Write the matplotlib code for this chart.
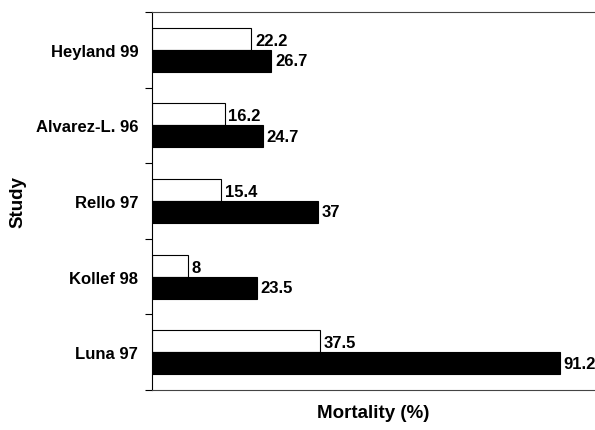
import matplotlib.pyplot as plt
import numpy as np

studies = ['Heyland 99', 'Alvarez-L. 96', 'Rello 97', 'Kollef 98', 'Luna 97']
open_vals = [22.2, 16.2, 15.4, 8, 37.5]
filled_vals = [26.7, 24.7, 37, 23.5, 91.2]

plt.rcParams['font.family'] = ['Liberation Sans', 'DejaVu Sans']

fig = plt.figure(figsize=(5.95, 4.31), dpi=100)
ax = fig.add_axes([0.2555, 0.0928, 0.7445, 0.877])

y = np.arange(len(studies))
h = 0.29
ax.barh(y - h / 2, open_vals, height=h, color='white', edgecolor='black', linewidth=0.8)
ax.barh(y + h / 2, filled_vals, height=h, color='black', edgecolor='black', linewidth=0.8)

for yi, v in zip(y, open_vals):
    ax.text(v + 0.8, yi - h / 2 + 0.02, f'{v:g}', va='center', ha='left', fontsize=12, fontweight='bold')
for yi, v in zip(y, filled_vals):
    ax.text(v + 0.8, yi + h / 2, f'{v:g}', va='center', ha='left', fontsize=12, fontweight='bold')

ax.set_xlim(0, 99)
ax.set_ylim(len(studies) - 0.5, -0.5)

# tick marks sit between groups, labels at group centres
ax.set_yticks(np.arange(-0.5, len(studies), 1.0))
ax.set_yticklabels([])
ax.set_yticks(y, minor=True)
ax.set_yticklabels(studies, minor=True, fontsize=12, fontweight='bold')
ax.tick_params(axis='y', which='major', length=5, width=0.8, direction='out')
ax.tick_params(axis='y', which='minor', length=0, pad=10)
ax.set_xticks([])

ax.spines['right'].set_visible(False)
ax.spines['top'].set_color('#444444')
ax.spines['bottom'].set_color('#444444')
for s in ax.spines.values():
    s.set_linewidth(0.8)

ax.set_xlabel('Mortality (%)', fontsize=13.5, fontweight='bold', labelpad=10)
ax.set_ylabel('Study', fontsize=13.5, fontweight='bold')
ax.yaxis.set_label_coords(-0.283, 0.5)

fig.savefig('out.png', dpi=100)
